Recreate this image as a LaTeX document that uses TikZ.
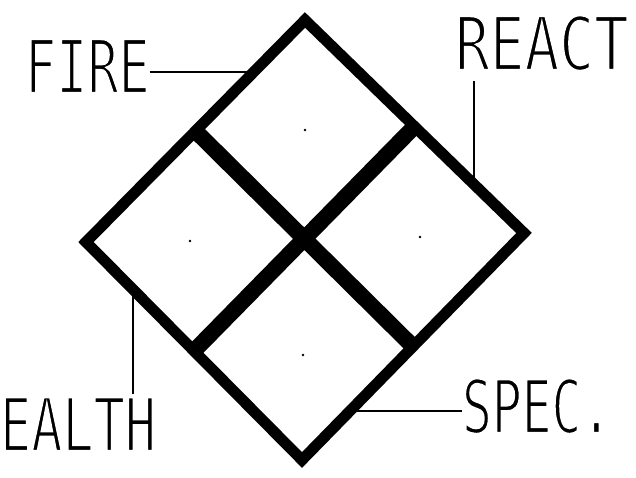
\documentclass[tikz,border=0pt]{standalone}
\usepackage{fontspec}
\usepackage{graphicx}
\usetikzlibrary{calc}
\newfontfamily\plotfont{DejaVu Sans Mono}
% thin the glyphs: fill black, then stroke the outline in white
\newcommand{\thinglyphs}[1]{\special{pdf:literal 2 Tr 1 G 2.4 w}#1\special{pdf:literal 0 Tr 0 G}}
\newcommand{\plbl}[2][0.7]{\scalebox{#1}[1]{\plotfont\fontsize{74}{74}\selectfont\thinglyphs{#2}}}
\begin{document}
\begin{tikzpicture}[x=1pt,y=-1pt,
  border/.style={line width=11pt,line join=miter,black},
  crossbar/.style={line width=16pt,line cap=butt,black},
  leader/.style={line width=2.4pt,black},
  lbl/.style={inner sep=0pt,outer sep=0pt}]
\useasboundingbox (0,0) rectangle (636,478);
\fill[white] (0,0) rectangle (636,478);
% diamond corners
\coordinate (T) at (305,20);
\coordinate (R) at (524,233);
\coordinate (B) at (302,460);
\coordinate (L) at (86,242);
% cross bars (edge midpoints)
\draw[crossbar] ($(L)!0.5!(T)$) -- ($(R)!0.5!(B)$);
\draw[crossbar] ($(T)!0.5!(R)$) -- ($(B)!0.5!(L)$);
\draw[border] (L) -- (T) -- (R) -- (B) -- cycle;
% centre marks of the quadrants
\fill (305,130) circle (1.3);
\fill (190,241) circle (1.3);
\fill (420,237) circle (1.3);
\fill (303,355) circle (1.3);
% labels
\node[lbl,anchor=base west] (fire) at (25,93) {\plbl{FIRE}};
\node[lbl,anchor=base west] (react) at (455,70) {\plbl[0.78]{REACT}};
\node[lbl,anchor=base west] (spec) at (462,433) {\plbl[0.67]{SPEC.}};
\node[lbl,anchor=base east] (health) at (156,451) {\plbl{HEALTH}};
% leader ends on the diamond
\coordinate (fireend) at (250,72);
\coordinate (reactend) at (474,184);
\coordinate (healthend) at (133,289);
\coordinate (specend) at (350,411);
\draw[leader] (fire.east |- fireend) -- (fireend);
\draw[leader] (reactend |- react.south) ++(0,10) -- (reactend);
\draw[leader] (healthend |- health.north) ++(0,-3) -- (healthend);
\draw[leader] (spec.west |- specend) -- (specend);
\end{tikzpicture}
\end{document}
